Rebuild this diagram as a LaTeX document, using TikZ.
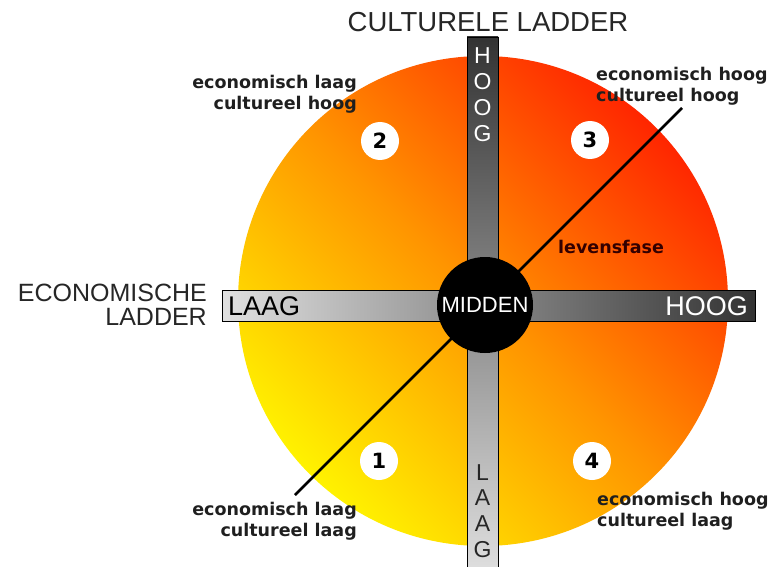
\documentclass[tikz,border=0pt]{standalone}
\usepackage{fontspec}
\setmainfont{Liberation Sans}
\newfontfamily\labelfont{DejaVu Sans}
\definecolor{sunyellow}{RGB}{255,242,0}
\definecolor{sunorange}{RGB}{255,148,0}
\definecolor{sunred}{RGB}{255,38,0}

\begin{document}
\begin{tikzpicture}[x=1pt,y=-1pt,
    bar/.style={draw=black,line width=0.8pt,inner sep=0pt},
    num/.style={circle,fill=white,minimum size=38pt,inner sep=0pt,font=\labelfont\bfseries\fontsize{21}{21}\selectfont},
    lbl/.style={inner sep=0pt,text=black!88,font=\labelfont\bfseries\fontsize{17.5}{21}\selectfont},
    title/.style={inner sep=0pt,text=black!85,font=\fontsize{27.5}{22}\selectfont},
    bartxt/.style={inner sep=0pt,font=\fontsize{27}{27}\selectfont},
    barlet/.style={inner sep=0pt,anchor=base,font=\fontsize{23}{23}\selectfont}]
    \useasboundingbox (0,0) rectangle (771,567);
    % disc
    \shade[bottom color=sunyellow,top color=sunred,middle color=sunorange,shading angle=-45]
        (483,301) circle (245pt);
    % levensfase
    \coordinate (lo) at (295,495);
    \coordinate (hi) at (682,108);
    \draw[line width=2.6pt] (lo) -- (hi);
    % ladders
    \node[bar,minimum width=31pt,minimum height=540pt,top color=black!80,bottom color=black!12] (cbar) at (482.5,307) {};
    \node[bar,minimum width=533pt,minimum height=31pt,left color=black!12,right color=black!80] (ebar) at (488.5,305.5) {};
    \node[circle,fill=black,minimum size=96pt,inner sep=0pt,text=white,font=\fontsize{22}{22}\selectfont] (mid) at (485,305) {MIDDEN};
    \node[bartxt,anchor=base west] (elaag) at (228,315) {LAAG};
    \node[bartxt,anchor=base east,text=white] (ehoog) at (748,315) {HOOG};
    \foreach \l [count=\i from 0] in {H,O,O,G}
        \node[barlet,text=white] (choog\i) at (482.5,{64+25.7*\i}) {\l};
    \foreach \l [count=\i from 0] in {L,A,A,G}
        \node[barlet,text=black!85] (claag\i) at (482.5,{480+25.7*\i}) {\l};
    % titles
    \node[title,anchor=base] (ctitle) at (488,32) {CULTURELE LADDER};
    \node[title,align=right,anchor=north east,font=\fontsize{25}{23.5}\selectfont] (etitle) at (207,284) {ECONOMISCHE\\LADDER};
    % quadrants
    \node[num] (q2) at (380,141) {2};
    \node[num] (q3) at (590,140) {3};
    \node[num] (q1) at (379,461) {1};
    \node[num] (q4) at (592,461) {4};
    \node[lbl,align=right,anchor=north east] (t2) at (357,75) {economisch laag\\cultureel hoog};
    \node[lbl,align=left,anchor=north west] (t3) at (596,67) {economisch hoog\\cultureel hoog};
    \node[lbl,align=right,anchor=north east] (t1) at (357,502) {economisch laag\\cultureel laag};
    \node[lbl,align=left,anchor=north west] (t4) at (597,492) {economisch hoog\\cultureel laag};
    \node[lbl,anchor=base west,text=black!80!red] (life) at (558,253) {levensfase};
\end{tikzpicture}
\end{document}
